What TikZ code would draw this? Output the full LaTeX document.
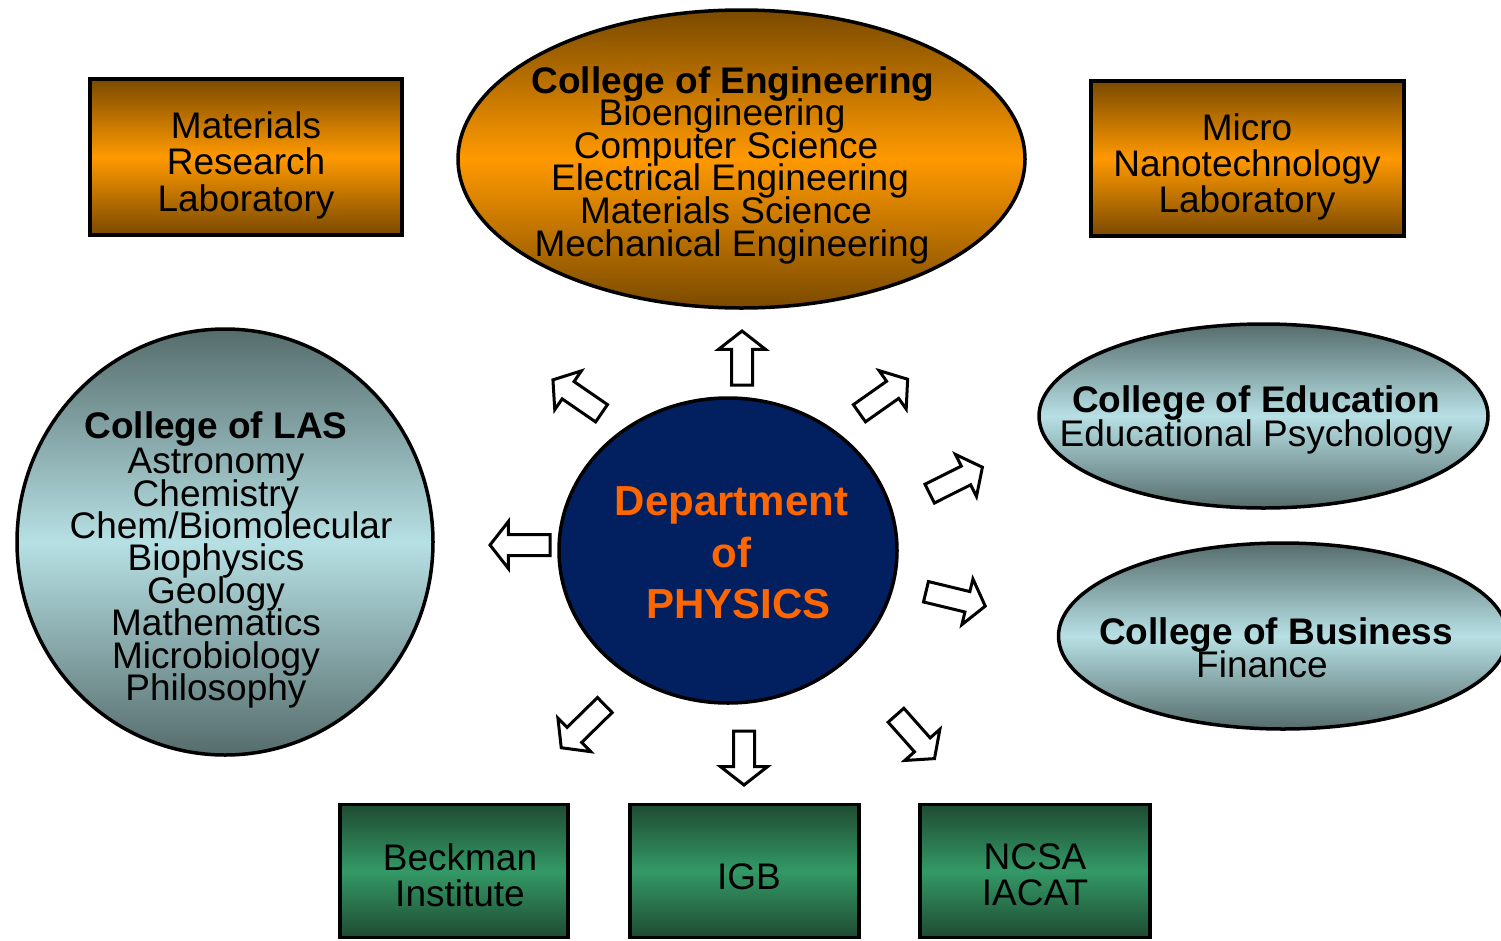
\documentclass[tikz,border=0pt]{standalone}
\usepackage{fontspec}
\setmainfont{Liberation Sans}
\usetikzlibrary{shapes.geometric,shapes.arrows}
\definecolor{orDark}{RGB}{122,74,0}
\definecolor{orMid}{RGB}{255,153,0}
\definecolor{slDark}{RGB}{86,108,108}
\definecolor{slMid}{RGB}{183,224,228}
\definecolor{grDark}{RGB}{30,75,50}
\definecolor{grMid}{RGB}{51,153,102}
\definecolor{navy}{RGB}{2,32,96}
\definecolor{physOrange}{RGB}{255,102,0}
\newcommand\mytightlines{\lineskiplimit=-100pt\relax\lineskip=0pt\relax}
\begin{document}
\begin{tikzpicture}[x=1pt,y=-1pt,
  shapeline/.style={draw=black,line width=3.5pt,inner sep=0pt},
  orangefill/.style={top color=orDark,bottom color=orDark,middle color=orMid},
  slatefill/.style={top color=slDark,bottom color=slDark,middle color=slMid},
  greenfill/.style={top color=grDark,bottom color=grDark,middle color=grMid},
  oval/.style={ellipse,shapeline},
  box/.style={rectangle,shapeline},
  txt/.style={align=center,inner sep=0pt,text=black},
  fs/.style={font=\fontsize{37}{#1}\selectfont\mytightlines},
  blockarrow/.style={single arrow,draw=black,fill=white,line width=3pt,
    inner xsep=0pt,inner ysep=9pt,minimum width=44pt,anchor=tail,
    single arrow head extend=13pt,single arrow tip angle=104}
]
\useasboundingbox (0,0) rectangle (1501,940);
\fill[white] (0,0) rectangle (1501,940);
\clip (0,0) rectangle (1501,940);

% top row
\node[box,orangefill,minimum width=312pt,minimum height=156pt] (mrl) at (246,157) {};
\node[txt,fs=36.5] (mrlt) at (246,165) {Materials\\Research\\Laboratory};

\node[oval,orangefill,minimum width=567pt,minimum height=298pt] (eng) at (741.5,159) {};
\node[txt,fs=32.6] (engt) at (733,165) {\bfseries College of Engineering\\\hspace*{-22pt}Bioengineering\\\hspace*{-14pt}Computer Science\\\hspace*{-6pt}Electrical Engineering\\\hspace*{-14pt}Materials Science\\\hspace*{-2pt}Mechanical Engineering};

\node[box,orangefill,minimum width=313pt,minimum height=155pt] (mnl) at (1247.5,158.5) {};
\node[txt,fs=36] (mnlt) at (1247,167) {Micro\\Nanotechnology\\Laboratory};

% left
\node[oval,slatefill,minimum width=416pt,minimum height=426pt] (las) at (225,542) {};
\node[txt,fs=32.4] (last) at (216,560) {\bfseries College of LAS\\[2.6pt]Astronomy\\Chemistry\\\hspace*{30pt}Chem/Biomolecular\\Biophysics\\Geology\\Mathematics\\Microbiology\\Philosophy};

% right
\node[oval,slatefill,minimum width=449pt,minimum height=184pt] (edu) at (1263.5,416) {};
\node[txt,fs=34] (edut) at (1256,420) {\bfseries College of Education\\Educational Psychology};

\node[oval,slatefill,minimum width=449pt,minimum height=186pt] (bus) at (1283,636) {};
\node[txt,fs=33] (bust) at (1276,647.5) {\bfseries College of Business\\Finance\rule{28pt}{0pt}};

% bottom
\node[box,greenfill,minimum width=228pt,minimum height=133pt] (bek) at (454,871) {};
\node[txt,fs=36] (bekt) at (460,875) {Beckman\\Institute};
\node[box,greenfill,minimum width=229pt,minimum height=133pt] (igb) at (744.5,871) {};
\node[txt,fs=36] (igbt) at (749,877) {IGB};
\node[box,greenfill,minimum width=230pt,minimum height=133pt] (ncsa) at (1035,871) {};
\node[txt,fs=36] (ncsat) at (1035,875) {NCSA\\IACAT};

% centre
\node[oval,fill=navy,minimum width=338pt,minimum height=305pt] (phys) at (728,550.5) {};
\node[txt,text=physOrange,font=\fontsize{42}{51.5}\selectfont\bfseries\mytightlines] (physt) at (731.5,553) {Department\\of\\\hspace*{14pt}PHYSICS};

% block arrows (placed by their tails)
\node[blockarrow,minimum height=54pt,rotate=90] (a1) at (742,386.5) {};
\node[blockarrow,minimum height=59pt,rotate=145.5] (a2) at (602.8,414.1) {};
\node[blockarrow,minimum height=59pt,rotate=35.2] (a3) at (858.2,414.1) {};
\node[blockarrow,minimum height=59pt,rotate=26.6] (a4) at (928.3,494.3) {};
\node[blockarrow,minimum height=61pt,rotate=-13.6] (a5) at (924.5,591.4) {};
\node[blockarrow,minimum height=58pt,rotate=-48.4] (a6) at (895,714.1) {};
\node[blockarrow,minimum height=54pt,rotate=-90] (a7) at (744,729.5) {};
\node[blockarrow,minimum height=61pt,rotate=-135.6] (a8) at (605.9,704) {};
\node[blockarrow,minimum height=60pt,rotate=180] (a9) at (551.5,545) {};
\end{tikzpicture}
\end{document}
